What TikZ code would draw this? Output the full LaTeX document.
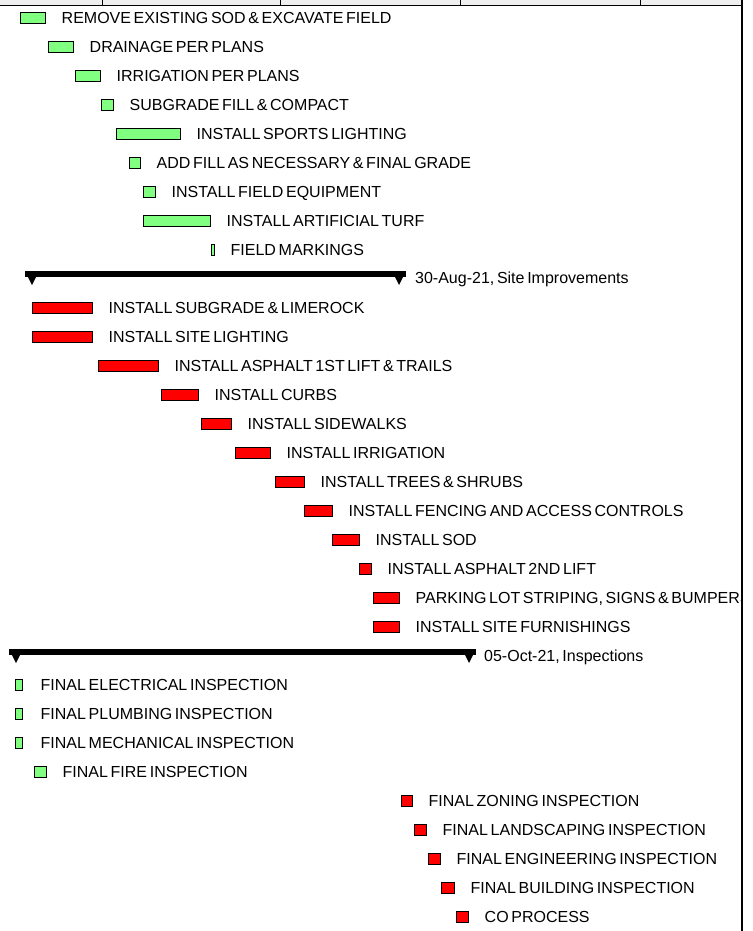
\documentclass[tikz,border=0pt]{standalone}
\usepackage{fontspec}
\setmainfont[WordSpace=0.6]{Liberation Sans}
\usetikzlibrary{positioning}
\definecolor{taskgreen}{RGB}{128,255,128}
\definecolor{taskred}{RGB}{255,0,0}
\definecolor{headgray}{RGB}{239,239,239}

\begin{document}
\begin{tikzpicture}[x=1pt,y=-1pt,
  bar/.style={draw=black, line width=1.2pt, anchor=west, minimum height=11pt, inner sep=0pt, outer sep=0pt},
  gbar/.style={bar, fill=taskgreen},
  rbar/.style={bar, fill=taskred},
  sumbar/.style={fill=black, anchor=west, minimum height=6pt, inner sep=0pt, outer sep=0pt},
  task/.style={font=\fontsize{16}{19}\selectfont, inner sep=0pt, text height=11.5pt, text depth=0pt, anchor=west}]
  \useasboundingbox (0,0) rectangle (752,931);

  % header strip and frame
  \fill[headgray] (0,0) rectangle (742,5);
  \draw[line width=1pt] (102,0) -- (102,5) (280,0) -- (280,5) (460,0) -- (460,5) (640,0) -- (640,5);
  \draw[line width=1.8pt] (0,5.5) -- (742,5.5);
  \draw[line width=1.5pt] (742,0) -- (742,931);

  % field works
  \node[gbar, minimum width=25pt] (sod) at (20.5,18) {};
  \node[task, right=16pt of sod] (sod-l) {REMOVE EXISTING SOD \& EXCAVATE FIELD};
  \node[gbar, minimum width=25pt] (drain) at (48.5,47) {};
  \node[task, right=16pt of drain] (drain-l) {DRAINAGE PER PLANS};
  \node[gbar, minimum width=25pt] (irrig) at (75.5,76) {};
  \node[task, right=16pt of irrig] (irrig-l) {IRRIGATION PER PLANS};
  \node[gbar, minimum width=12pt] (subfill) at (101.5,105) {};
  \node[task, right=16pt of subfill] (subfill-l) {SUBGRADE FILL \& COMPACT};
  \node[gbar, minimum width=64pt] (sportlt) at (116.5,134) {};
  \node[task, right=16pt of sportlt] (sportlt-l) {INSTALL SPORTS LIGHTING};
  \node[gbar, minimum width=11pt] (addfill) at (129.5,163) {};
  \node[task, right=16pt of addfill] (addfill-l) {ADD FILL AS NECESSARY \& FINAL GRADE};
  \node[gbar, minimum width=12pt] (fieldeq) at (143.5,192) {};
  \node[task, right=16pt of fieldeq] (fieldeq-l) {INSTALL FIELD EQUIPMENT};
  \node[gbar, minimum width=67pt] (turf) at (143.5,221) {};
  \node[task, right=16pt of turf] (turf-l) {INSTALL ARTIFICIAL TURF};
  \node[gbar, minimum width=3pt] (mark) at (211.5,250) {};
  \node[task, right=16pt of mark] (mark-l) {FIELD MARKINGS};

  % summary: site improvements
  \node[sumbar, minimum width=381pt] (site) at (25,274) {};
  \fill (site.north west) -- ++(14,0) -- ++(-7,14) -- cycle;
  \fill (site.north east) -- ++(-14,0) -- ++(7,14) -- cycle;
  \node[task, right=9pt of site.east, yshift=-4pt] (site-l) {30-Aug-21, Site Improvements};

  % site works
  \node[rbar, minimum width=60pt] (limerock) at (32.5,308) {};
  \node[task, right=16pt of limerock] (limerock-l) {INSTALL SUBGRADE \& LIMEROCK};
  \node[rbar, minimum width=60pt] (sitelt) at (32.5,337) {};
  \node[task, right=16pt of sitelt] (sitelt-l) {INSTALL SITE LIGHTING};
  \node[rbar, minimum width=60pt] (asph1) at (98.5,366) {};
  \node[task, right=16pt of asph1] (asph1-l) {INSTALL ASPHALT 1ST LIFT \& TRAILS};
  \node[rbar, minimum width=37pt] (curbs) at (161.5,395) {};
  \node[task, right=16pt of curbs] (curbs-l) {INSTALL CURBS};
  \node[rbar, minimum width=30pt] (walks) at (201.5,424) {};
  \node[task, right=16pt of walks] (walks-l) {INSTALL SIDEWALKS};
  \node[rbar, minimum width=35pt] (irrig2) at (235.5,453) {};
  \node[task, right=16pt of irrig2] (irrig2-l) {INSTALL IRRIGATION};
  \node[rbar, minimum width=29pt] (trees) at (275.5,482) {};
  \node[task, right=16pt of trees] (trees-l) {INSTALL TREES \& SHRUBS};
  \node[rbar, minimum width=28pt] (fence) at (304.5,511) {};
  \node[task, right=16pt of fence] (fence-l) {INSTALL FENCING AND ACCESS CONTROLS};
  \node[rbar, minimum width=27pt] (sodinst) at (332.5,540) {};
  \node[task, right=16pt of sodinst] (sodinst-l) {INSTALL SOD};
  \node[rbar, minimum width=12pt] (asph2) at (359.5,569) {};
  \node[task, right=16pt of asph2] (asph2-l) {INSTALL ASPHALT 2ND LIFT};
  \node[rbar, minimum width=26pt] (parking) at (373.5,598) {};
  \begin{scope}
    \clip (0,0) rectangle (741,931);
    \node[task, right=16pt of parking] (parking-l) {PARKING LOT STRIPING, SIGNS \& BUMPERS};
  \end{scope}
  \node[rbar, minimum width=26pt] (furnish) at (373.5,627) {};
  \node[task, right=16pt of furnish] (furnish-l) {INSTALL SITE FURNISHINGS};

  % summary: inspections
  \node[sumbar, minimum width=467pt] (insp) at (9,652) {};
  \fill (insp.north west) -- ++(14,0) -- ++(-7,14) -- cycle;
  \fill (insp.north east) -- ++(-14,0) -- ++(7,14) -- cycle;
  \node[task, right=8pt of insp.east, yshift=-4pt] (insp-l) {05-Oct-21, Inspections};

  % inspections
  \node[gbar, minimum width=7pt] (elec) at (15.5,685) {};
  \node[task, right=18pt of elec] (elec-l) {FINAL ELECTRICAL INSPECTION};
  \node[gbar, minimum width=7pt] (plumb) at (15.5,714) {};
  \node[task, right=18pt of plumb] (plumb-l) {FINAL PLUMBING INSPECTION};
  \node[gbar, minimum width=7pt] (mech) at (15.5,743) {};
  \node[task, right=18pt of mech] (mech-l) {FINAL MECHANICAL INSPECTION};
  \node[gbar, minimum width=12pt] (fire) at (34.5,772) {};
  \node[task, right=16pt of fire] (fire-l) {FINAL FIRE INSPECTION};
  \node[rbar, minimum width=11pt] (zoning) at (401.5,801) {};
  \node[task, right=16pt of zoning] (zoning-l) {FINAL ZONING INSPECTION};
  \node[rbar, minimum width=12pt] (landsc) at (414.5,830) {};
  \node[task, right=16pt of landsc] (landsc-l) {FINAL LANDSCAPING INSPECTION};
  \node[rbar, minimum width=12pt] (engin) at (428.5,859) {};
  \node[task, right=16pt of engin] (engin-l) {FINAL ENGINEERING INSPECTION};
  \node[rbar, minimum width=13pt] (bldg) at (441.5,888) {};
  \node[task, right=16pt of bldg] (bldg-l) {FINAL BUILDING INSPECTION};
  \node[rbar, minimum width=12pt] (coproc) at (456.5,917) {};
  \node[task, right=16pt of coproc] (coproc-l) {CO PROCESS};
\end{tikzpicture}
\end{document}
